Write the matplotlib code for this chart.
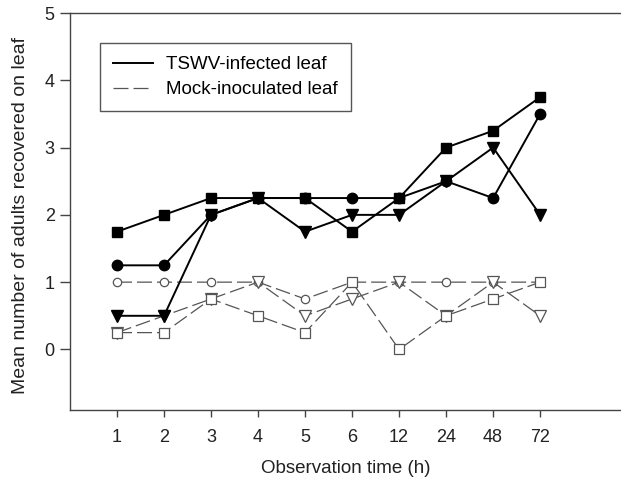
import matplotlib
matplotlib.use('agg')
import matplotlib.pyplot as plt
from matplotlib.lines import Line2D

plt.rcParams['font.family'] = ['Liberation Sans', 'DejaVu Sans']

# data
times = ['1', '2', '3', '4', '5', '6', '12', '24', '48', '72']

tswv_square = [1.75, 2.0, 2.25, 2.25, 2.25, 1.75, 2.25, 3.0, 3.25, 3.75]
tswv_circle = [1.25, 1.25, 2.0, 2.25, 2.25, 2.25, 2.25, 2.5, 2.25, 3.5]
tswv_triangle = [0.5, 0.5, 2.0, 2.25, 1.75, 2.0, 2.0, 2.5, 3.0, 2.0]

mock_circle = [1.0, 1.0, 1.0, 1.0, 0.75, 1.0, 1.0, 1.0, 1.0, 1.0]
mock_triangle = [0.25, 0.5, 0.75, 1.0, 0.5, 0.75, 1.0, 0.5, 1.0, 0.5]
mock_square = [0.25, 0.25, 0.75, 0.5, 0.25, 1.0, 0.0, 0.5, 0.75, 1.0]

fig = plt.figure(figsize=(6.21, 4.82), dpi=100)
ax = fig.add_axes([0.1127, 0.1494, 0.8873, 0.8236])

X = list(range(1, len(times) + 1))

# mock-inoculated (gray dashed, open markers)
mock_kw = dict(color='#555555', linewidth=0.9, linestyle=(0, (12, 4)),
               markerfacecolor='white', markeredgecolor='#555555',
               markeredgewidth=0.9, zorder=2)
ax.plot(X, mock_circle, marker='o', markersize=6, **mock_kw)
ax.plot(X, mock_triangle, marker='v', markersize=8, **mock_kw)
ax.plot(X, mock_square, marker='s', markersize=7.5, **mock_kw)

# TSWV-infected (black solid, filled markers)
tswv_kw = dict(color='black', linewidth=1.4, zorder=3)
ax.plot(X, tswv_circle, marker='o', markersize=7.5, **tswv_kw)
ax.plot(X, tswv_triangle, marker='v', markersize=8.5, **tswv_kw)
ax.plot(X, tswv_square, marker='s', markersize=7.5, **tswv_kw)

# Limits
ax.set_xlim(0, 11.72)
ax.set_ylim(-0.9, 5)
ax.set_xticks(X)
ax.set_xticklabels(times)
ax.set_yticks([0, 1, 2, 3, 4, 5])

for s in ['left', 'bottom', 'top']:
    ax.spines[s].set_color('#444444')
    ax.spines[s].set_linewidth(1.0)
ax.spines['right'].set_visible(False)
ax.tick_params(direction='out', width=1, colors='#444444',
               labelcolor='#222222', labelsize=13)
ax.tick_params(axis='x', length=5, pad=9)
ax.tick_params(axis='y', length=7, pad=4)

# Labels
ax.set_xlabel('Observation time (h)', fontsize=13.5, color='#222222')
ax.xaxis.set_label_coords(0.5, -0.125)
ax.set_ylabel('Mean number of adults recovered on leaf', fontsize=14,
              color='#222222')
ax.yaxis.set_label_coords(-0.074, 0.491)

handles = [Line2D([], [], color='black', linewidth=1.4),
           Line2D([], [], color='#555555', linewidth=0.9, linestyle=(0, (12, 4)))]
leg = ax.legend(handles, ['TSWV-infected leaf', 'Mock-inoculated leaf'],
                loc='upper left', bbox_to_anchor=(100 / 621, 1 - 43 / 482),
                bbox_transform=fig.transFigure, borderaxespad=0,
                fontsize=13.5, fancybox=False, framealpha=1,
                edgecolor='#555555', borderpad=0.7, handlelength=2.1,
                handletextpad=0.7, labelspacing=0.42)
leg.get_frame().set_linewidth(1.0)

plt.savefig('out.png', dpi=100)
